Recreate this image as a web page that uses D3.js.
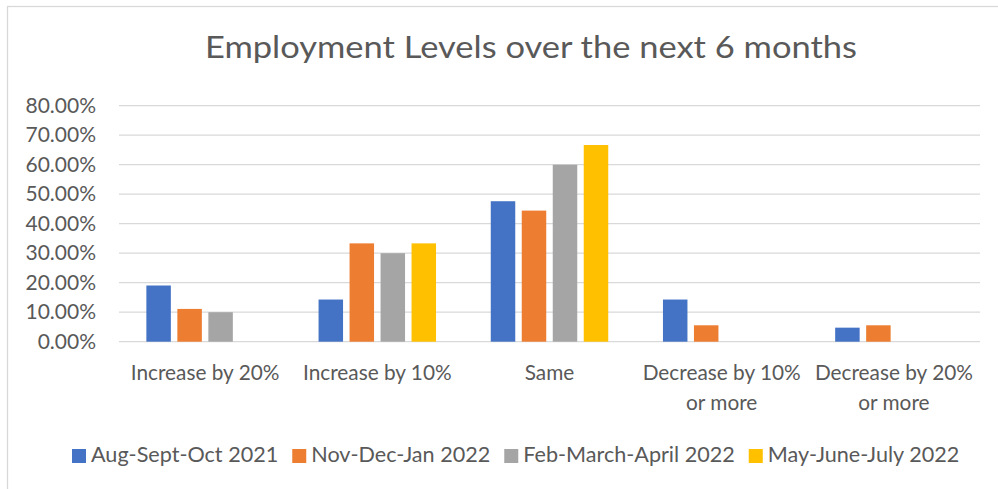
<!DOCTYPE html>
<html>
<head>
<meta charset="utf-8">
<script src="https://cdn.jsdelivr.net/npm/d3@7"></script>
<style>
  body { margin: 0; background: #fff; }
  text { font-family: Lato, "Open Sans", sans-serif; fill: #595959; }
</style>
</head>
<body>
<svg id="chart" width="998" height="489"></svg>
<script>
// data
var categories = ["Increase by 20%", "Increase by 10%", "Same", "Decrease by 10% or more", "Decrease by 20% or more"];
var series = ["Aug-Sept-Oct 2021", "Nov-Dec-Jan 2022", "Feb-March-April 2022", "May-June-July 2022"];
var augSeptOct = [0.1905, 0.1429, 0.4762, 0.1429, 0.0476];
var novDecJan = [0.1111, 0.3333, 0.4444, 0.0556, 0.0556];
var febMarApr = [0.10, 0.30, 0.60, 0, 0];
var mayJunJul = [0, 0.3333, 0.6667, 0, 0];
var yTicks = [0, 0.1, 0.2, 0.3, 0.4, 0.5, 0.6, 0.7, 0.8];

var values = [augSeptOct, novDecJan, febMarApr, mayJunJul];
var colors = ["#4472C4", "#ED7D31", "#A5A5A5", "#FFC000"];

var svg = d3.select("#chart"),
    plotLeft = 119, plotRight = 980, plotTop = 105.7, plotBottom = 341.7;

// chart frame (only top and left show in the crop)
svg.append("rect")
    .attr("x", 7.5).attr("y", 6.5)
    .attr("width", 1100).attr("height", 600)
    .style("fill", "none")
    .style("stroke", "#D9D9D9")
    .style("stroke-width", 1.3);

svg.append("text")
    .attr("x", 531).attr("y", 58)
    .attr("text-anchor", "middle")
    .attr("textLength", 652)
    .attr("lengthAdjust", "spacingAndGlyphs")
    .style("font-size", "31px")
    .text("Employment Levels over the next 6 months");

var y = d3.scaleLinear().domain([0, 0.8]).range([plotBottom, plotTop]);

var x0 = d3.scaleBand()
    .domain(categories)
    .range([plotLeft, plotRight])
    .paddingInner(0.28)
    .paddingOuter(0.14);

var x1 = d3.scaleBand()
    .domain(d3.range(series.length))
    .range([0, x0.bandwidth()])
    .paddingInner(0.21)
    .paddingOuter(0.105);

// gridlines
svg.append("g")
    .selectAll("line")
    .data(yTicks)
    .enter().append("line")
    .attr("x1", plotLeft).attr("x2", plotRight)
    .attr("y1", function(d) { return y(d); })
    .attr("y2", function(d) { return y(d); })
    .style("stroke", "#D9D9D9")
    .style("stroke-width", 1.3);

var fmt = d3.format(".2%");
svg.append("g")
    .selectAll("text")
    .data(yTicks)
    .enter().append("text")
    .attr("x", 96)
    .attr("y", function(d) { return y(d) + 7; })
    .attr("text-anchor", "end")
    .style("font-size", "21px")
    .text(function(d) { return fmt(d); });

// bars
var group = svg.append("g")
    .selectAll("g")
    .data(categories)
    .enter().append("g")
    .attr("transform", function(d) { return "translate(" + x0(d) + ",0)"; });

group.selectAll("rect")
    .data(function(d, i) {
        return values.map(function(s, k) { return {k: k, v: s[i]}; });
    })
    .enter().append("rect")
    .filter(function(d) { return d.v > 0; })
    .attr("x", function(d) { return x1(d.k); })
    .attr("width", x1.bandwidth())
    .attr("y", function(d) { return y(d.v); })
    .attr("height", function(d) { return plotBottom - y(d.v); })
    .style("fill", function(d) { return colors[d.k]; });

// category labels, long ones wrap after "by xx%"
group.append("text")
    .attr("x", x0.bandwidth() / 2)
    .attr("y", 380)
    .attr("text-anchor", "middle")
    .style("font-size", "20.8px")
    .each(function(d) {
        var t = d3.select(this);
        var parts = d.indexOf(" or more") > 0 ? [d.replace(" or more", ""), "or more"] : [d];
        parts.forEach(function(p, i) {
            t.append("tspan")
                .attr("x", x0.bandwidth() / 2)
                .attr("dy", i ? 30 : 0)
                .text(p);
        });
    });

// legend, laid out left to right
var legend = svg.append("g")
    .selectAll("g")
    .data(series)
    .enter().append("g");

legend.append("rect")
    .attr("y", 449)
    .attr("width", 14).attr("height", 14)
    .style("fill", function(d, i) { return colors[i]; });

legend.append("text")
    .attr("x", 19).attr("y", 462)
    .style("font-size", "21.6px")
    .text(function(d) { return d; });

var lx = 72;
legend.each(function() {
    var g = d3.select(this);
    g.attr("transform", "translate(" + lx + ",0)");
    lx += 19 + g.select("text").node().getComputedTextLength() + 14;
});
</script>
</body>
</html>
